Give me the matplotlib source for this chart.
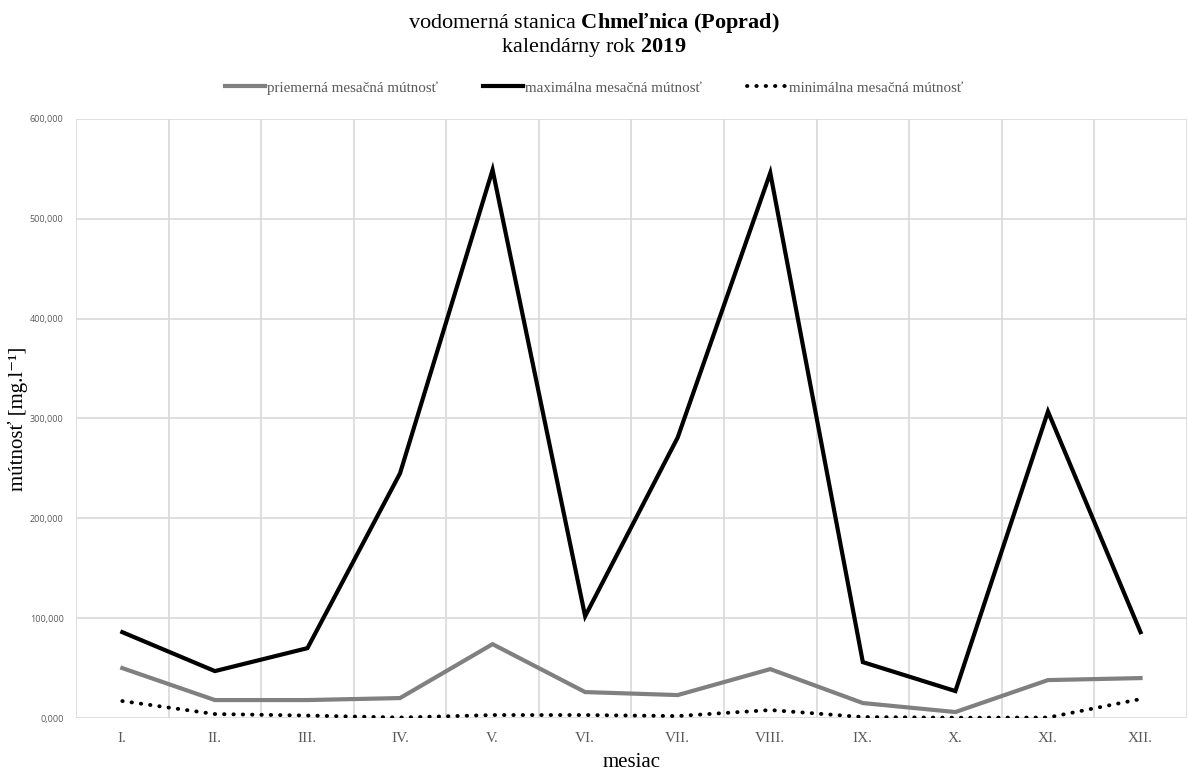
import matplotlib
matplotlib.use("Agg")
import matplotlib.pyplot as plt
from matplotlib.ticker import FuncFormatter, MultipleLocator, FixedLocator

# mesačné hodnoty mútnosti [mg/l], Chmeľnica (Poprad), 2019
months = ["I.", "II.", "III.", "IV.", "V.", "VI.", "VII.", "VIII.", "IX.", "X.", "XI.", "XII."]
mean_vals = [50, 18, 18, 20, 74, 26, 23, 49, 15, 6, 38, 40]
max_vals = [86, 47, 70, 245, 549, 102, 281, 546, 56, 27, 307, 86]
min_vals = [17, 4, 2.5, 0.5, 3, 3, 2, 8, 1, 0.3, 0.5, 19]

labels = ["priemerná mesačná mútnosť", "maximálna mesačná mútnosť", "minimálna mesačná mútnosť"]

plt.rcParams["font.family"] = ["Liberation Serif", "DejaVu Serif"]
plt.rcParams["mathtext.fontset"] = "custom"
plt.rcParams["mathtext.rm"] = "Liberation Serif"
plt.rcParams["mathtext.it"] = "Liberation Serif:italic"
plt.rcParams["mathtext.bf"] = "Liberation Serif:bold"

fig = plt.figure(figsize=(11.88, 7.71), dpi=100)
ax = fig.add_axes([0.064, 0.0687, 0.935, 0.777])

x = list(range(len(months)))
ax.plot(x, mean_vals, color="#808080", lw=3.0, solid_joinstyle="miter", label=labels[0], zorder=3)
ax.plot(x, max_vals, color="#000000", lw=3.0, solid_joinstyle="miter", label=labels[1], zorder=4)
ax.plot(x, min_vals, color="#000000", lw=2.8, linestyle=(0, (0.1, 2.3)),
        dash_capstyle="round", label=labels[2], zorder=3)

ax.set_xlim(-0.5, len(months) - 0.5)
ax.set_ylim(0, 600)
ax.set_xticks(x)
ax.set_xticklabels(months, fontsize=11, color="#595959")
ax.xaxis.set_minor_locator(FixedLocator([i + 0.5 for i in range(-1, len(months))]))
ax.yaxis.set_major_locator(MultipleLocator(100))
ax.yaxis.set_major_formatter(FuncFormatter(lambda v, p: ("%.3f" % v).replace(".", ",")))
for lab in ax.get_yticklabels():
    lab.set_fontfamily("Open Sans")
ax.tick_params(axis="y", labelsize=6.5, colors="#595959", length=0, pad=9)
ax.tick_params(axis="x", which="both", length=0, pad=10)

ax.grid(axis="y", which="major", color="#d9d9d9", lw=1.2)
ax.grid(axis="x", which="minor", color="#d9d9d9", lw=1.2)
for s in ax.spines.values():
    s.set_visible(False)

ax.set_xlabel("mesiac", fontsize=15, labelpad=6)
ax.set_ylabel("mútnosť [mg.l⁻¹]", fontsize=15, labelpad=1)

fig.text(0.5, 0.970, r"vodomerná stanica $\mathbf{Chmeľnica\ (Poprad)}$",
         ha="center", va="center", fontsize=16)
fig.text(0.5, 0.938, r"kalendárny rok $\mathbf{2019}$",
         ha="center", va="center", fontsize=16)

leg = fig.legend(loc="center", bbox_to_anchor=(0.5, 0.886), ncol=3, frameon=False,
                 fontsize=10.8, handlelength=2.7, handletextpad=0.1, columnspacing=3.0)
for t in leg.get_texts():
    t.set_color("#595959")

fig.savefig("out.png", dpi=100)
